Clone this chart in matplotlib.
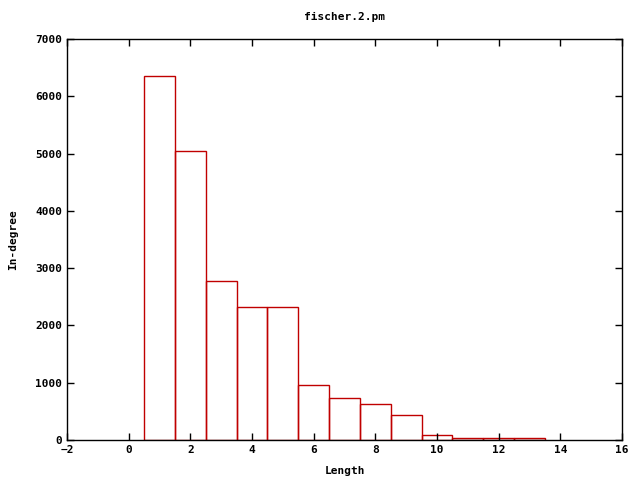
import matplotlib
matplotlib.use("Agg")
import matplotlib.pyplot as plt

# in-degree per length
lengths = [1, 2, 3, 4, 5, 6, 7, 8, 9, 10, 11, 12, 13]
counts = [6360, 5040, 2775, 2320, 2320, 955, 735, 630, 440, 95, 40, 40, 35]

plt.rcParams['font.family'] = 'DejaVu Sans Mono'
plt.rcParams['font.size'] = 8
plt.rcParams['font.weight'] = 'bold'

fig = plt.figure(figsize=(6.4, 4.8), dpi=100)
ax = fig.add_axes([0.1047, 0.0833, 0.8672, 0.8355])

ax.bar(lengths, counts, width=1.0, facecolor='none', edgecolor='#c00000', linewidth=1)

ax.set_xlim(-2, 16)
ax.set_ylim(0, 7000)
ax.set_xticks(range(-2, 17, 2))
ax.set_yticks(range(0, 7001, 1000))
ax.tick_params(direction='in', top=True, right=True, length=5, width=1, labelsize=8)
for s in ax.spines.values():
    s.set_linewidth(1)

ax.set_title('fischer.2.pm', fontsize=8, fontweight='bold', pad=14)
ax.set_xlabel('Length', fontsize=8, fontweight='bold', labelpad=8)
ax.set_ylabel('In-degree', fontsize=8, fontweight='bold', labelpad=12)

fig.savefig('out.png', dpi=100)
